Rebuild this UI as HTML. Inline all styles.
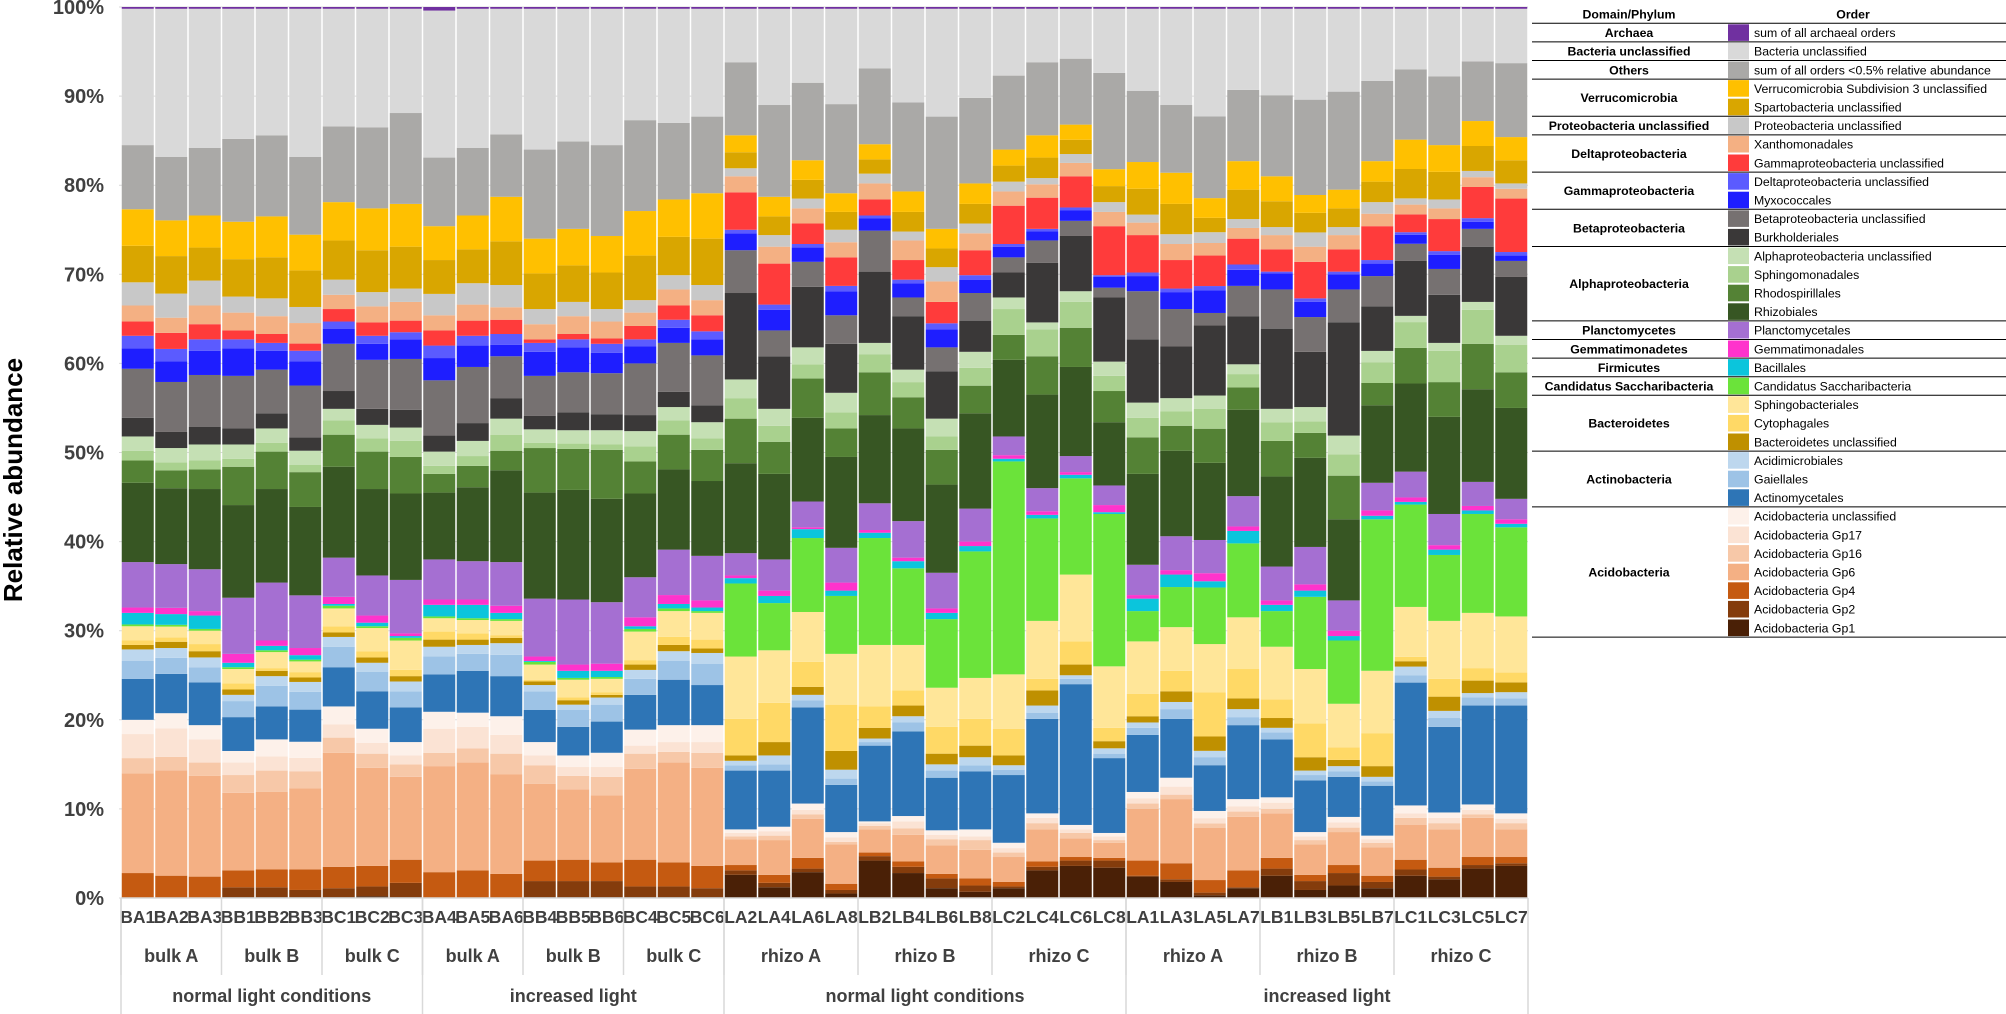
<!DOCTYPE html>
<html><head><meta charset="utf-8"><style>
html,body{margin:0;padding:0;background:#fff;}
svg{display:block;font-family:"Liberation Sans",sans-serif;}
</style></head>
<body>
<svg id="chart" width="2006" height="1014" viewBox="0 0 2006 1014" xmlns="http://www.w3.org/2000/svg">
<g id="grid"></g>
<g id="bars"></g>
<g id="yaxis"></g>
<g id="xaxis"></g>
<g id="legend"></g>
<text x="0" y="0" transform="translate(22,480) rotate(-90)" text-anchor="middle" font-size="26" font-weight="bold" fill="#000">Relative abundance</text>
</svg>
<script>
const barLabels=["BA1","BA2","BA3","BB1","BB2","BB3","BC1","BC2","BC3","BA4","BA5","BA6","BB4","BB5","BB6","BC4","BC5","BC6","LA2","LA4","LA6","LA8","LB2","LB4","LB6","LB8","LC2","LC4","LC6","LC8","LA1","LA3","LA5","LA7","LB1","LB3","LB5","LB7","LC1","LC3","LC5","LC7"];
const groupLabels=["bulk A","bulk B","bulk C","bulk A","bulk B","bulk C","rhizo A","rhizo B","rhizo C","rhizo A","rhizo B","rhizo C"];
const groupSizes=[3,3,3,3,3,3,4,4,4,4,4,4];
const conditionLabels=["normal light conditions","increased light","normal light conditions","increased light"];
const conditionSizes=[9,9,12,12];
const yTickLabels=["0%","10%","20%","30%","40%","50%","60%","70%","80%","90%","100%"];
const yTickValues=[0,10,20,30,40,50,60,70,80,90,100];

// series values (% relative abundance), bottom of stack first
const acidoGp1=[0,0,0,.1,.1,.1,.1,.2,.1,0,0,0,.1,.1,.1,.1,.1,.1,2.6,1.2,2.9,.5,4.2,2.8,1.1,.7,1.1,3.1,3.6,3.4,2.4,1.8,.3,1.1,2.5,.9,1.4,1.1,2.5,2.1,3.3,3.6];
const acidoGp2=[0,0,0,1.1,1.1,.8,1.0,1.1,1.6,0,0,0,1.8,1.8,1.8,1.2,1.2,1.0,.5,.5,.4,.4,.5,.7,1.1,.7,.2,.4,.6,.8,.1,.3,.3,.1,.8,1.0,1.4,.7,.7,.3,.4,.3];
const acidoGp4=[2.8,2.5,2.4,1.9,2.0,2.3,2.4,2.3,2.6,2.9,3.1,2.7,2.3,2.4,2.1,3.0,2.7,2.5,.6,.9,1.2,.7,.4,.6,.5,.8,.5,.6,.4,.3,1.7,1.8,1.4,1.9,1.2,.7,.9,.7,1.1,1.0,.9,.7];
const acidoGp6=[11.2,11.8,11.3,8.7,8.7,9.1,12.8,11.0,9.3,11.9,12.1,11.2,8.6,7.9,7.5,10.2,11.2,11.0,2.9,3.9,4.4,4.4,2.6,3.0,3.2,3.2,2.8,3.6,2.1,1.7,5.8,7.2,5.8,6.0,5.0,3.4,3.7,3.2,3.9,4.3,4.4,3.1];
const acidoGp16=[1.7,1.5,1.5,2.0,2.4,1.9,1.7,1.6,1.4,1.5,1.6,2.3,2.1,1.5,2.1,1.7,1.2,1.7,.3,.5,.5,.3,.4,.7,.7,1.1,.5,.7,.6,.3,.6,.5,.5,.6,.5,.5,.5,.5,.8,.7,.4,.7];
const acidoGp17=[2.7,3.2,2.6,1.4,1.6,1.5,1.5,1.2,1.0,2.7,2.4,2.1,1.1,1.0,1.1,.9,1.1,1.2,.4,.5,.5,.5,.3,.8,.5,.4,.5,.6,.4,.4,.6,.9,.6,.6,.7,.4,.6,.4,.5,.6,.5,.5];
const acidoUnclassified=[1.6,1.7,1.6,1.3,1.9,1.8,2.0,1.6,1.5,1.9,1.6,2.1,1.5,1.3,1.6,1.8,1.9,1.9,.4,.5,.7,.6,.2,.6,.5,.8,.6,.5,.5,.4,.7,1.0,.8,.8,.6,.5,.6,.4,.9,.6,.6,.6];
const actinomycetales=[4.6,4.4,4.8,3.8,3.7,3.6,4.4,4.2,3.9,4.2,4.7,4.5,3.6,3.2,3.5,3.9,5.1,4.5,6.6,6.3,10.8,5.3,8.5,9.5,5.9,6.5,7.6,10.6,15.8,8.4,6.4,6.6,5.1,8.3,6.5,5.8,4.5,5.6,13.8,9.6,11.1,12.1];
const gaiellales=[2.0,1.8,1.7,1.8,2.3,2.0,2.3,2.2,1.8,2.0,1.9,2.4,2.1,1.9,1.9,1.8,2.1,2.4,.6,.7,.8,.7,.4,1.0,.8,.7,.6,.7,.6,.5,.8,1.1,.9,.9,.8,.6,.6,.5,.8,1.0,.9,.8];
const acidimicrobiales=[1.3,1.1,1.1,.7,1.1,1.1,1.1,1.0,1.1,1.1,1.0,1.3,.7,.6,.8,1.0,1.1,1.2,.5,1.0,.6,1.0,.4,.7,.7,.9,.5,.8,.4,.6,.6,.8,.7,.9,.5,.5,.6,.5,1.0,.8,.5,.7];
const bacteroidetesUnclassified=[.5,.7,.7,.6,.6,.5,.5,.6,.6,.8,.6,.6,.4,.5,.3,.6,.7,.5,.6,1.5,.9,2.1,1.2,1.2,1.2,1.3,1.1,1.7,1.2,.8,.7,1.2,1.6,1.2,1.1,1.5,.7,1.2,.6,1.6,1.4,1.1];
const cytophagales=[.5,.5,.8,.7,.3,.6,.7,.7,.7,.9,.7,.3,.2,.3,.3,.5,.9,1.0,4.1,4.4,2.8,5.2,2.4,1.7,3.0,3.0,3.0,1.3,2.6,1.5,2.5,2.3,4.9,3.3,2.1,3.8,1.4,3.7,.5,2.0,1.4,1.1];
const sphingobacteriales=[1.6,1.2,1.5,1.6,1.8,1.2,2.0,2.6,3.3,1.5,1.5,1.6,1.7,2.0,1.5,3.2,2.9,3.0,7.0,5.9,5.6,5.7,6.9,5.1,4.4,4.6,6.1,6.5,7.5,6.9,5.9,4.9,5.4,5.8,5.9,6.1,4.9,7.0,5.6,6.5,6.2,6.3];
const saccharibacteria=[.2,.2,.2,.2,.2,.2,.3,.2,.3,.2,.2,.2,.3,.2,.2,.3,.3,.2,8.2,5.3,8.3,6.5,12.0,8.6,7.7,14.2,23.9,11.5,10.8,17.1,3.4,4.5,6.3,8.3,4.0,8.1,7.1,17.0,11.5,7.4,11.1,10.0];
const bacillales=[1.3,1.2,1.5,.5,.5,.5,.2,.4,.2,1.3,1.5,.7,.1,.8,.7,.3,.5,.4,.6,.8,1.0,.6,.6,.8,.7,.6,.3,.4,.4,.2,1.4,1.4,.7,1.4,.7,.7,.5,.4,.3,.6,.4,.4];
const gemmatimonadales=[.6,.7,.5,1.0,.6,.8,.8,.8,.3,.6,.6,.8,.5,.7,.8,1.0,1.0,.8,.3,.6,.2,.9,.3,.4,.5,.5,.4,.4,.3,.8,.4,.5,.9,.5,.5,.7,.6,.6,.5,.5,.5,.5];
const planctomycetales=[5.1,4.9,4.7,6.3,6.5,5.9,4.4,4.5,6.0,4.5,4.3,4.9,6.5,7.3,6.9,4.5,5.1,5.0,2.5,3.5,2.9,3.9,3.0,4.1,4.0,3.7,2.1,2.6,1.8,2.2,3.4,3.8,3.7,3.4,3.8,4.2,3.4,3.1,2.9,3.5,2.7,2.3];
const rhizobiales=[8.9,8.5,9.0,10.4,10.5,9.9,10.2,9.7,9.7,7.5,8.3,10.3,11.9,12.3,11.6,9.4,9.0,8.4,10.1,9.6,9.4,10.2,9.9,10.4,9.9,10.7,8.6,10.5,10.0,7.1,10.2,9.6,8.6,9.7,10.1,10.0,9.1,8.7,9.9,10.9,10.4,10.2];
const rhodospirillales=[2.5,2.0,2.2,4.3,4.2,3.9,3.6,4.2,4.1,2.1,2.4,2.2,5.0,4.6,5.5,3.6,3.9,3.5,5.0,3.6,4.4,3.2,4.8,3.5,3.9,3.1,2.8,4.3,4.4,3.5,4.1,2.8,3.8,2.5,4.0,2.8,4.9,2.5,4.0,3.9,5.1,4.0];
const sphingomonadales=[1.1,.9,1.0,.9,1.0,.8,1.6,1.5,1.8,.9,1.1,1.8,.6,.6,.6,1.7,1.6,1.3,2.3,1.8,1.6,1.8,2.0,1.7,1.5,2.0,2.9,3.0,2.9,1.7,2.2,1.6,2.2,1.5,2.1,1.3,2.4,2.3,2.9,3.5,3.8,3.1];
const alphaUnclassified=[1.6,1.6,1.8,1.6,1.6,1.6,1.3,1.5,1.5,1.6,1.7,1.8,1.5,1.5,1.6,1.7,1.5,1.8,2.1,1.9,1.9,2.2,1.3,1.4,2.0,1.8,1.3,.8,1.2,1.6,1.7,1.5,1.5,1.1,1.5,1.6,2.1,1.3,.7,.9,.9,1.0];
const burkholderiales=[2.1,1.8,2.0,1.8,1.7,1.5,2.0,1.8,2.0,1.8,2.0,2.3,1.5,2.0,1.8,1.8,1.7,1.9,9.7,5.9,6.8,5.5,8.0,6.0,5.3,3.5,2.8,6.7,6.2,7.2,7.1,5.8,7.8,5.4,9.0,6.2,12.7,5.0,6.2,5.4,6.2,6.6];
const betaUnclassified=[5.5,5.6,5.8,5.9,4.9,5.8,5.3,5.5,5.7,6.2,6.3,4.7,4.5,4.5,4.6,5.8,5.5,5.6,4.8,2.9,2.8,3.2,4.6,2.1,2.7,3.1,1.7,2.5,1.7,1.1,5.4,4.2,1.4,3.4,4.4,3.9,3.7,3.4,1.9,2.9,2.0,1.8];
const myxococcales=[2.3,2.3,2.7,3.1,2.1,2.7,1.7,1.8,2.2,2.5,2.4,1.3,2.7,2.8,2.3,1.9,1.7,1.8,1.9,2.3,1.6,2.7,1.4,1.6,2.0,1.5,1.2,1.0,1.2,1.2,1.7,1.9,2.5,1.8,1.8,1.7,1.7,1.4,1.0,1.6,.8,.6];
const deltaUnclassified=[1.4,1.4,1.3,1.0,.9,1.2,.8,.9,.8,1.4,1.1,1.2,1.0,.9,1.0,.8,.9,.9,.4,.6,.4,.6,.3,.4,.7,.5,.3,.3,.3,.2,.4,.4,.5,.6,.2,.4,.3,.4,.3,.4,.4,.4];
const gammaUnclassified=[1.6,1.8,1.7,1.0,1.0,.8,1.4,1.5,1.3,1.7,1.7,1.6,.4,.6,.6,1.5,1.6,1.8,4.2,4.6,2.3,3.2,1.8,2.2,2.4,2.8,4.3,3.5,3.5,5.5,4.2,3.2,3.4,2.9,2.5,4.1,2.5,3.8,2.0,3.6,3.5,6.0];
const xanthomonadales=[1.8,1.7,2.1,2.0,2.0,2.3,1.6,1.8,2.1,1.7,1.8,1.4,1.7,2.0,1.9,1.5,1.8,1.7,1.8,1.9,1.7,1.7,1.8,2.2,2.3,1.9,1.6,1.5,1.5,1.6,1.4,1.8,1.4,1.2,1.6,1.7,1.6,1.4,1.1,1.2,1.1,1.1];
const proteoUnclassified=[2.6,2.7,2.8,1.8,2.0,1.8,1.7,1.6,1.5,2.4,2.4,2.5,1.7,1.6,1.4,1.4,1.6,1.7,.9,1.3,1.1,1.4,1.1,1.0,1.6,1.1,1.1,.7,1.0,1.1,.9,1.1,1.2,1.0,.9,1.6,.9,1.3,.7,1.0,.7,.6];
const spartobacteria=[4.1,4.2,3.7,4.2,4.6,4.1,4.4,4.7,4.7,3.8,3.8,4.9,4.0,4.1,4.1,5.0,4.3,5.2,1.8,2.1,2.1,2.0,1.6,2.2,2.1,2.2,1.8,2.3,1.6,1.8,2.9,3.4,1.6,3.3,2.9,2.2,2.1,2.3,3.3,3.1,2.8,2.6];
const verrucoSubdivision3=[4.1,4.0,3.6,4.2,4.6,4.0,4.3,4.7,4.8,3.8,3.8,5.0,3.9,4.1,4.1,5.0,4.2,5.1,1.9,2.2,2.2,2.1,1.7,2.3,2.2,2.3,1.8,2.5,1.7,1.9,3.0,3.5,2.2,3.2,2.8,2.0,2.1,2.3,3.3,3.0,2.8,2.6];
const otherOrders=[7.2,7.1,7.6,9.3,9.1,8.7,8.5,9.1,10.2,7.7,7.6,7.0,10.0,9.8,10.2,10.2,8.6,8.6,8.2,10.3,8.7,10.0,8.5,10.0,12.6,9.6,8.3,8.2,7.4,10.8,8.0,7.6,9.1,8.0,9.1,10.7,11.0,9.0,7.9,7.7,6.7,8.3];
const bacteriaUnclassified=[15.3,16.6,15.6,14.6,14.2,16.6,13.2,13.3,11.7,16.5,15.6,14.1,15.8,14.9,15.3,12.5,12.8,12.1,6.0,10.8,8.3,10.7,6.7,10.5,12.1,10.0,7.5,6.0,5.6,7.2,9.2,10.8,12.0,9.1,9.7,10.2,9.3,8.1,6.8,7.6,5.9,6.1];
const archaea=[.2,.2,.2,.2,.2,.2,.2,.2,.2,.4,.2,.2,.2,.2,.2,.2,.2,.2,.2,.2,.2,.2,.2,.2,.2,.2,.2,.2,.2,.2,.2,.2,.2,.2,.2,.2,.2,.2,.2,.2,.2,.2];

const seriesValues=[acidoGp1,acidoGp2,acidoGp4,acidoGp6,acidoGp16,acidoGp17,acidoUnclassified,actinomycetales,gaiellales,acidimicrobiales,bacteroidetesUnclassified,cytophagales,sphingobacteriales,saccharibacteria,bacillales,gemmatimonadales,planctomycetales,rhizobiales,rhodospirillales,sphingomonadales,alphaUnclassified,burkholderiales,betaUnclassified,myxococcales,deltaUnclassified,gammaUnclassified,xanthomonadales,proteoUnclassified,spartobacteria,verrucoSubdivision3,otherOrders,bacteriaUnclassified,archaea];
const seriesNames=["Acidobacteria Gp1","Acidobacteria Gp2","Acidobacteria Gp4","Acidobacteria Gp6","Acidobacteria Gp16","Acidobacteria Gp17","Acidobacteria unclassified","Actinomycetales","Gaiellales","Acidimicrobiales","Bacteroidetes unclassified","Cytophagales","Sphingobacteriales","Candidatus Saccharibacteria","Bacillales","Gemmatimonadales","Planctomycetales","Rhizobiales","Rhodospirillales","Sphingomonadales","Alphaproteobacteria unclassified","Burkholderiales","Betaproteobacteria unclassified","Myxococcales","Deltaproteobacteria unclassified","Gammaproteobacteria unclassified","Xanthomonadales","Proteobacteria unclassified","Spartobacteria unclassified","Verrucomicrobia Subdivision 3 unclassified","sum of all orders <0.5% relative abundance","Bacteria unclassified","sum of all archaeal orders"];
const seriesColors=["#4a2006","#843c0c","#c55a11","#f4b084","#f7c8a8","#fbe3d4","#fdf1ea","#2e75b6","#9dc3e6","#bdd7ee","#bf9000","#ffd966","#ffe699","#6be33a","#0bc5dc","#ff33cc","#a56fd2","#375623","#548235","#a9d18e","#c5e0b4","#3a3838","#767171","#1e1eff","#5b5bff","#ff3b3b","#f4b083","#c8c8c8","#d9a600","#ffc000","#aaa9a7","#d9d9d9","#7030a0"];
const phylumGroups=[["Archaea",1],["Bacteria unclassified",1],["Others",1],["Verrucomicrobia",2],["Proteobacteria unclassified",1],["Deltaproteobacteria",2],["Gammaproteobacteria",2],["Betaproteobacteria",2],["Alphaproteobacteria",4],["Planctomycetes",1],["Gemmatimonadetes",1],["Firmicutes",1],["Candidatus Saccharibacteria",1],["Bacteroidetes",3],["Actinobacteria",3],["Acidobacteria",7]];

const NS="http://www.w3.org/2000/svg";
const plotLeft=121, pitch=33.5, barW=32, yTop=7, yBottom=898;
function yScale(p){return yBottom-(yBottom-yTop)*p/100;}
function xBand(i){return plotLeft+i*pitch;}
function mk(tag,attrs,parent){const e=document.createElementNS(NS,tag);for(const k in attrs)e.setAttribute(k,attrs[k]);parent.appendChild(e);return e;}

const grid=document.getElementById('grid');
const yaxis=document.getElementById('yaxis');
yTickValues.forEach((v,i)=>{
  const ln=mk('line',{x1:plotLeft-2,x2:plotLeft+42*pitch,y1:yScale(v),y2:yScale(v),stroke:'#d9d9d9','stroke-width':1},grid);
  
  
  const t=mk('text',{x:104,y:yScale(v)+7,'text-anchor':'end','font-size':20,'font-weight':'bold',fill:'#404040'},yaxis);
  t.textContent=yTickLabels[i];
  
  
});

const bars=document.getElementById('bars');
for(let b=0;b<barLabels.length;b++){
  let total=0;for(const s of seriesValues)total+=s[b];
  const g=mk('g',{},bars);
  
  
  let cum=0;
  seriesValues.forEach((s,k)=>{
    const v=s[b]/total*100;
    const y1=yScale(cum), y2=yScale(cum+v);
    const r=mk('rect',{x:xBand(b)+0.75,y:y2,width:barW,height:Math.max(0,y1-y2),fill:seriesColors[k]},g);
    
    
    cum+=v;
  });
}

const xaxis=document.getElementById('xaxis');
const axisLine=mk('line',{x1:plotLeft,x2:plotLeft+42*pitch,y1:yBottom,y2:yBottom,stroke:'#d9d9d9','stroke-width':1.5},xaxis);


barLabels.forEach((l,i)=>{
  const t=mk('text',{x:xBand(i)+pitch/2,y:923,'text-anchor':'middle','font-size':17.5,'font-weight':'bold',fill:'#404040'},xaxis);
  t.textContent=l;
  
  
});
let start=0;
groupLabels.forEach((l,i)=>{
  const x0=xBand(start), x1=xBand(start+groupSizes[i]);
  const t=mk('text',{x:(x0+x1)/2,y:962,'text-anchor':'middle','font-size':18,'font-weight':'bold',fill:'#404040'},xaxis);
  t.textContent=l;
  
  
  const ln=mk('line',{x1:x0,x2:x0,y1:yBottom,y2:975,stroke:'#d9d9d9','stroke-width':1.5},xaxis);
  
  
  start+=groupSizes[i];
});
start=0;
conditionLabels.forEach((l,i)=>{
  const x0=xBand(start), x1=xBand(start+conditionSizes[i]);
  const t=mk('text',{x:(x0+x1)/2,y:1002,'text-anchor':'middle','font-size':18,'font-weight':'bold',fill:'#404040'},xaxis);
  t.textContent=l;
  
  
  const ln=mk('line',{x1:x0,x2:x0,y1:yBottom,y2:1014,stroke:'#d9d9d9','stroke-width':1.5},xaxis);
  
  
  start+=conditionSizes[i];
});
const endLine=mk('line',{x1:xBand(42),x2:xBand(42),y1:yBottom,y2:1014,stroke:'#d9d9d9','stroke-width':1.5},xaxis);



// legend table
const legend=document.getElementById('legend');
const lx0=1532, lx1=2006, rowH=18.6, headY=14, fs=12.3;
const h1=mk('text',{x:1629,y:headY+4.5,'text-anchor':'middle','font-size':fs,'font-weight':'bold',fill:'#000'},legend);
h1.textContent='Domain/Phylum';


const h2=mk('text',{x:1853,y:headY+4.5,'text-anchor':'middle','font-size':fs,'font-weight':'bold',fill:'#000'},legend);
h2.textContent='Order';


const topLn=mk('line',{x1:lx0,x2:lx1,y1:headY+rowH/2,y2:headY+rowH/2,stroke:'#000','stroke-width':1},legend);


let row=0;
phylumGroups.forEach(([name,n])=>{
  const yStart=headY+rowH/2+row*rowH, yEnd=yStart+n*rowH;
  const pt=mk('text',{x:1629,y:(yStart+yEnd)/2+4.5,'text-anchor':'middle','font-size':fs,'font-weight':'bold',fill:'#000'},legend);
  pt.textContent=name;
  
  
  for(let j=0;j<n;j++){
    const k=seriesNames.length-1-(row+j);
    const cy=yStart+(j+0.5)*rowH;
    const sw=mk('rect',{x:1728,y:cy-rowH/2+1,width:21,height:rowH-2,fill:seriesColors[k]},legend);
    
    
    const ot=mk('text',{x:1754,y:cy+4.5,'font-size':fs,fill:'#000'},legend);
    ot.textContent=seriesNames[k];
    
    
  }
  const ln=mk('line',{x1:lx0,x2:lx1,y1:yEnd,y2:yEnd,stroke:'#000','stroke-width':1},legend);
  
  
  row+=n;
});
</script>
</body></html>
